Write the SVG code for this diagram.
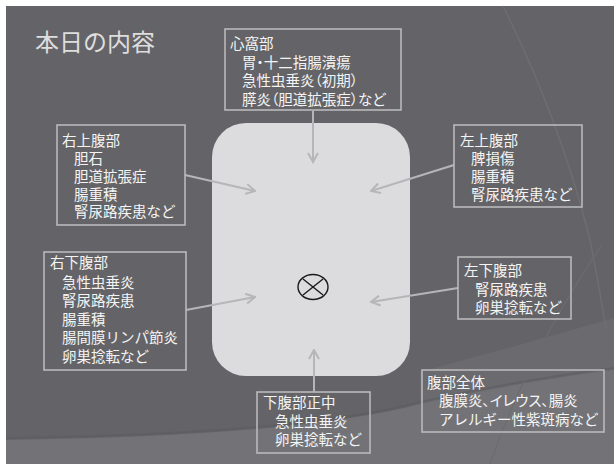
<svg xmlns="http://www.w3.org/2000/svg" width="614" height="464" viewBox="0 0 614 464">
<defs>
<style>
.bx{fill:none;stroke:#b9b9bb;stroke-width:1.6}
.t{font-family:"Noto Sans CJK JP","Noto Sans CJK SC",sans-serif;font-size:14.5px;fill:#f4f4f4}
.p{font-feature-settings:"palt"}
.ar{fill:none;stroke:#b6b6b8;stroke-width:2}
</style>
<marker id="ah" markerUnits="userSpaceOnUse" markerWidth="12" markerHeight="12" viewBox="0 0 12 12" refX="10.5" refY="6" orient="auto">
<path d="M1.5,1 L10.5,6 L1.5,11" fill="none" stroke="#b6b6b8" stroke-width="2"/>
</marker>
</defs>
<rect x="0" y="0" width="614" height="464" fill="#ffffff"/>
<g id="background">
<rect x="6" y="6" width="608" height="458" fill="#646468"/>
<path d="M420,372 Q520,345 614,318 L614,464 L420,464 Z" fill="#6b6b6f"/>
<path d="M6,440 Q300,436 420,404 Q520,382 614,370 L614,464 L6,464 Z" fill="#737377"/>
<path d="M6,438 Q300,434 420,402 Q520,380 614,368" fill="none" stroke="#5c5c60" stroke-width="2" opacity="0.6"/>
<path d="M503,6 Q560,120 590,240 Q600,290 606,330" fill="none" stroke="#6e6e72" stroke-width="1.5"/>
<path d="M602,245 Q530,350 490,464" fill="none" stroke="#6c6c70" stroke-width="1.2"/>
</g>
<text id="title" x="35" y="51" font-family="Noto Sans CJK JP, sans-serif" font-size="24" fill="#dedede">本日の内容</text>
<g id="center">
<rect x="212" y="123" width="198" height="253" rx="34" ry="34" fill="#dcdcde"/>
<ellipse cx="313" cy="287" rx="15" ry="12.5" fill="none" stroke="#1a1a1a" stroke-width="1.4"/>
<line x1="303" y1="279" x2="323" y2="295" stroke="#1a1a1a" stroke-width="1.4"/>
<line x1="323" y1="279" x2="303" y2="295" stroke="#1a1a1a" stroke-width="1.4"/>
</g>
<g id="connectors">
<line class="ar" x1="313" y1="111" x2="313" y2="162" marker-end="url(#ah)"/>
<line class="ar" x1="185" y1="175" x2="255" y2="191" marker-end="url(#ah)"/>
<line class="ar" x1="454" y1="165" x2="371" y2="191" marker-end="url(#ah)"/>
<line class="ar" x1="186" y1="310" x2="255" y2="297" marker-end="url(#ah)"/>
<line class="ar" x1="458" y1="288" x2="371" y2="302" marker-end="url(#ah)"/>
<line class="ar" x1="314" y1="392" x2="314" y2="350" marker-end="url(#ah)"/>
</g>
<g id="epigastric">
<rect class="bx" x="225" y="29" width="176" height="81"/>
<text class="t" x="230" y="49">心窩部</text>
<text class="t p" x="242" y="67.5">胃・十二指腸潰瘍</text>
<text class="t p" x="242" y="86">急性虫垂炎（初期）</text>
<text class="t p" x="242" y="104.5">膵炎（胆道拡張症）など</text>
</g>
<g id="right-upper">
<rect class="bx" x="57" y="125" width="128" height="100"/>
<text class="t" x="62" y="146">右上腹部</text>
<text class="t" x="74" y="164">胆石</text>
<text class="t" x="74" y="182">胆道拡張症</text>
<text class="t" x="74" y="199.5">腸重積</text>
<text class="t" x="74" y="217">腎尿路疾患など</text>
</g>
<g id="left-upper">
<rect class="bx" x="454" y="125" width="128" height="82"/>
<text class="t" x="460" y="146">左上腹部</text>
<text class="t" x="471" y="164">脾損傷</text>
<text class="t" x="471" y="182">腸重積</text>
<text class="t" x="471" y="200">腎尿路疾患など</text>
</g>
<g id="right-lower">
<rect class="bx" x="44" y="252" width="142" height="118"/>
<text class="t" x="50" y="268">右下腹部</text>
<text class="t" x="62" y="287.5">急性虫垂炎</text>
<text class="t" x="62" y="306">腎尿路疾患</text>
<text class="t" x="62" y="324.5">腸重積</text>
<text class="t" x="62" y="343">腸間膜リンパ節炎</text>
<text class="t" x="62" y="361.5">卵巣捻転など</text>
</g>
<g id="left-lower">
<rect class="bx" x="458" y="257" width="113" height="62"/>
<text class="t" x="464" y="276">左下腹部</text>
<text class="t" x="475" y="294.5">腎尿路疾患</text>
<text class="t" x="475" y="313">卵巣捻転など</text>
</g>
<g id="lower-midline">
<rect class="bx" x="257" y="392" width="113" height="61"/>
<text class="t" x="263" y="408">下腹部正中</text>
<text class="t" x="275" y="427">急性虫垂炎</text>
<text class="t" x="275" y="445">卵巣捻転など</text>
</g>
<g id="whole-abdomen">
<rect class="bx" x="422" y="370" width="182" height="62"/>
<text class="t" x="427" y="387.5">腹部全体</text>
<text class="t p" x="439" y="406">腹膜炎、イレウス、腸炎</text>
<text class="t" x="439" y="424.5">アレルギー性紫斑病など</text>
</g>
</svg>
